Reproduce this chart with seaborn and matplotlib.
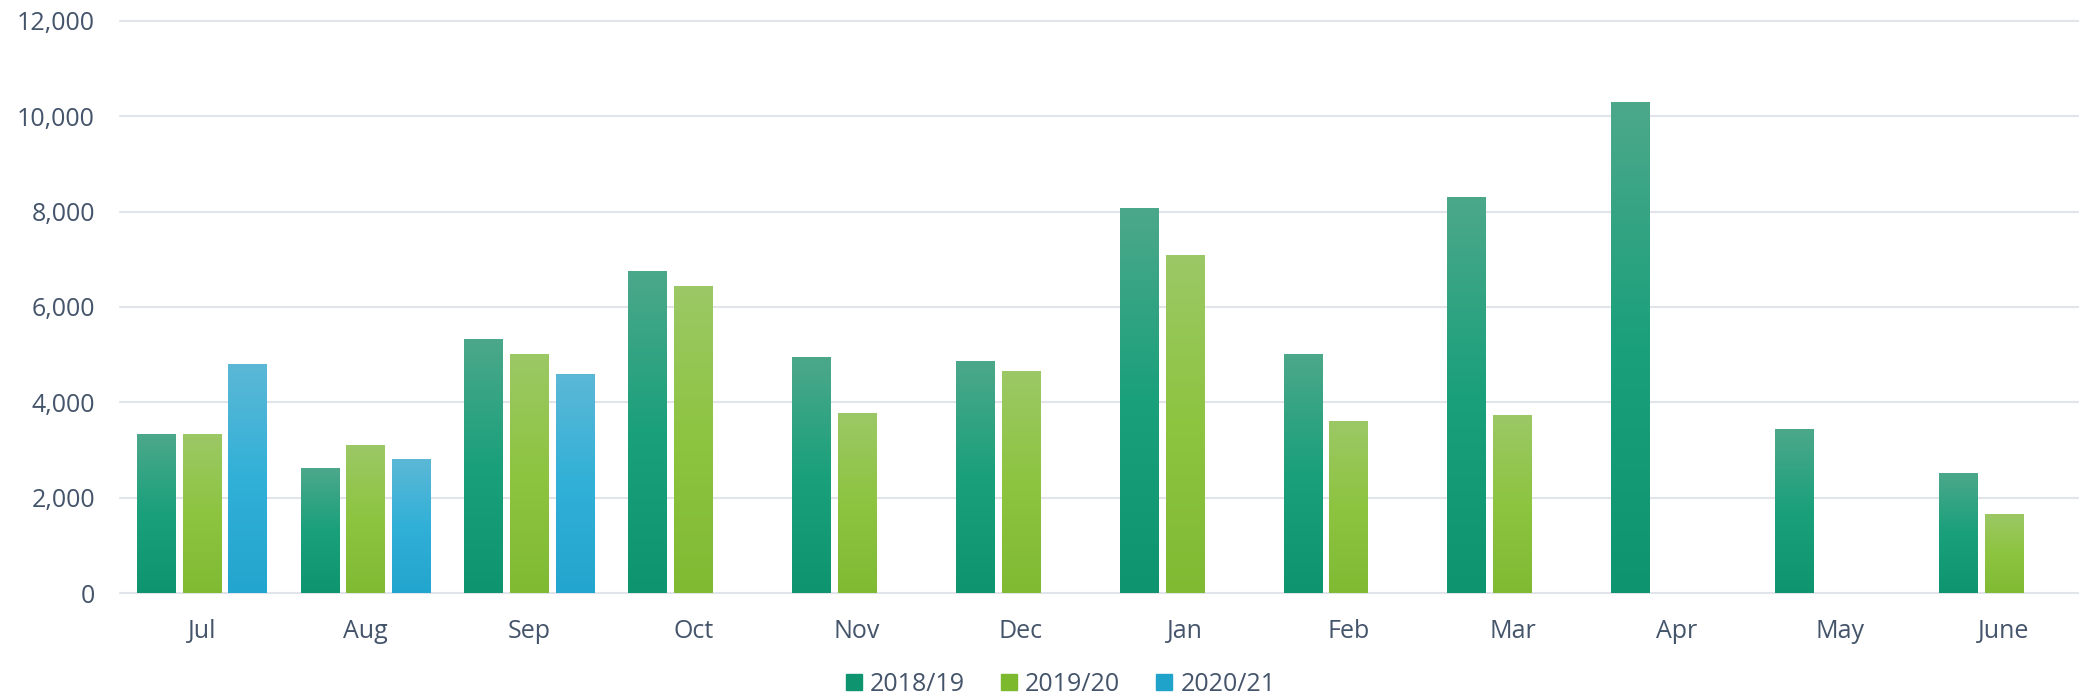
import matplotlib
matplotlib.use("Agg")
import matplotlib.pyplot as plt
import matplotlib.colors as mcolors
from matplotlib.lines import Line2D
import numpy as np
import pandas as pd
import seaborn as sns

months = ["Jul", "Aug", "Sep", "Oct", "Nov", "Dec", "Jan", "Feb", "Mar", "Apr", "May", "June"]
seasons = ["2018/19", "2019/20", "2020/21"]
vals_1819 = [3330, 2620, 5330, 6760, 4950, 4870, 8080, 5020, 8310, 10300, 3440, 2520]
vals_1920 = [3330, 3110, 5020, 6440, 3780, 4660, 7090, 3610, 3730, None, None, 1660]
vals_2021 = [4800, 2810, 4590, None, None, None, None, None, None, None, None, None]

base_colors = ["#0E9570", "#7DB92F", "#1FA3CB"]
# top / middle / bottom of each bar's gradient fill
grad_stops = [
    ["#4CA88A", "#1AA07B", "#0F9470"],
    ["#9CC866", "#8DC440", "#80BA33"],
    ["#5CB8D6", "#31B0D8", "#22A5CE"],
]
text_color = "#44546A"
grid_color = "#E1E5EA"

rows = []
for season, vals in zip(seasons, [vals_1819, vals_1920, vals_2021]):
    for m, v in zip(months, vals):
        if v is not None:
            rows.append({"month": m, "season": season, "value": v})
df = pd.DataFrame(rows)

sns.set_style("white")
plt.rcParams["font.family"] = ["Open Sans", "DejaVu Sans"]

fig = plt.figure(figsize=(20.79, 6.97), dpi=100)
ax = fig.add_axes([0.0577, 0.1492, 0.9456, 0.8207])

sns.barplot(
    data=df, x="month", y="value", hue="season",
    order=months, hue_order=seasons, palette=base_colors,
    width=0.84, gap=0.16, errorbar=None, legend=False, ax=ax,
)

# gradient fill clipped to each bar
for i, cont in enumerate(ax.containers):
    cmap = mcolors.LinearSegmentedColormap.from_list(f"g{i}", grad_stops[i][::-1])
    grad = np.linspace(0, 1, 256).reshape(-1, 1)
    for bar in cont:
        h = bar.get_height()
        if not np.isfinite(h) or h <= 0:
            continue
        x0 = bar.get_x()
        w = bar.get_width()
        im = ax.imshow(grad, cmap=cmap, origin="lower", aspect="auto",
                       extent=[x0, x0 + w, 0, h], zorder=bar.get_zorder() + 0.1)
        im.set_clip_path(bar)
        bar.set_edgecolor("none")

ax.set_xlim(-0.5, 11.5)
ax.set_ylim(0, 12000)
ax.set_yticks(range(0, 12001, 2000))
ax.set_yticklabels([f"{v:,}" for v in range(0, 12001, 2000)])
ax.set_xlabel("")
ax.set_ylabel("")
ax.set_axisbelow(True)
ax.yaxis.grid(True, color=grid_color, linewidth=1.5)
for s in ax.spines.values():
    s.set_visible(False)
ax.tick_params(axis="both", length=0, labelsize=18, labelcolor=text_color)
ax.tick_params(axis="y", pad=18)
ax.tick_params(axis="x", pad=19)
for gl in ax.yaxis.get_gridlines():
    gl.set_clip_on(False)

handles = [Line2D([], [], marker="s", linestyle="none", markersize=11.5,
                  markerfacecolor=c, markeredgecolor=c) for c in base_colors]
fig.legend(handles, seasons, loc="center", bbox_to_anchor=(0.51, 0.018),
           ncol=3, frameon=False, fontsize=18, labelcolor=text_color,
           handlelength=0.7, handletextpad=0.3, columnspacing=1.4)

fig.savefig("out.png", dpi=100)
